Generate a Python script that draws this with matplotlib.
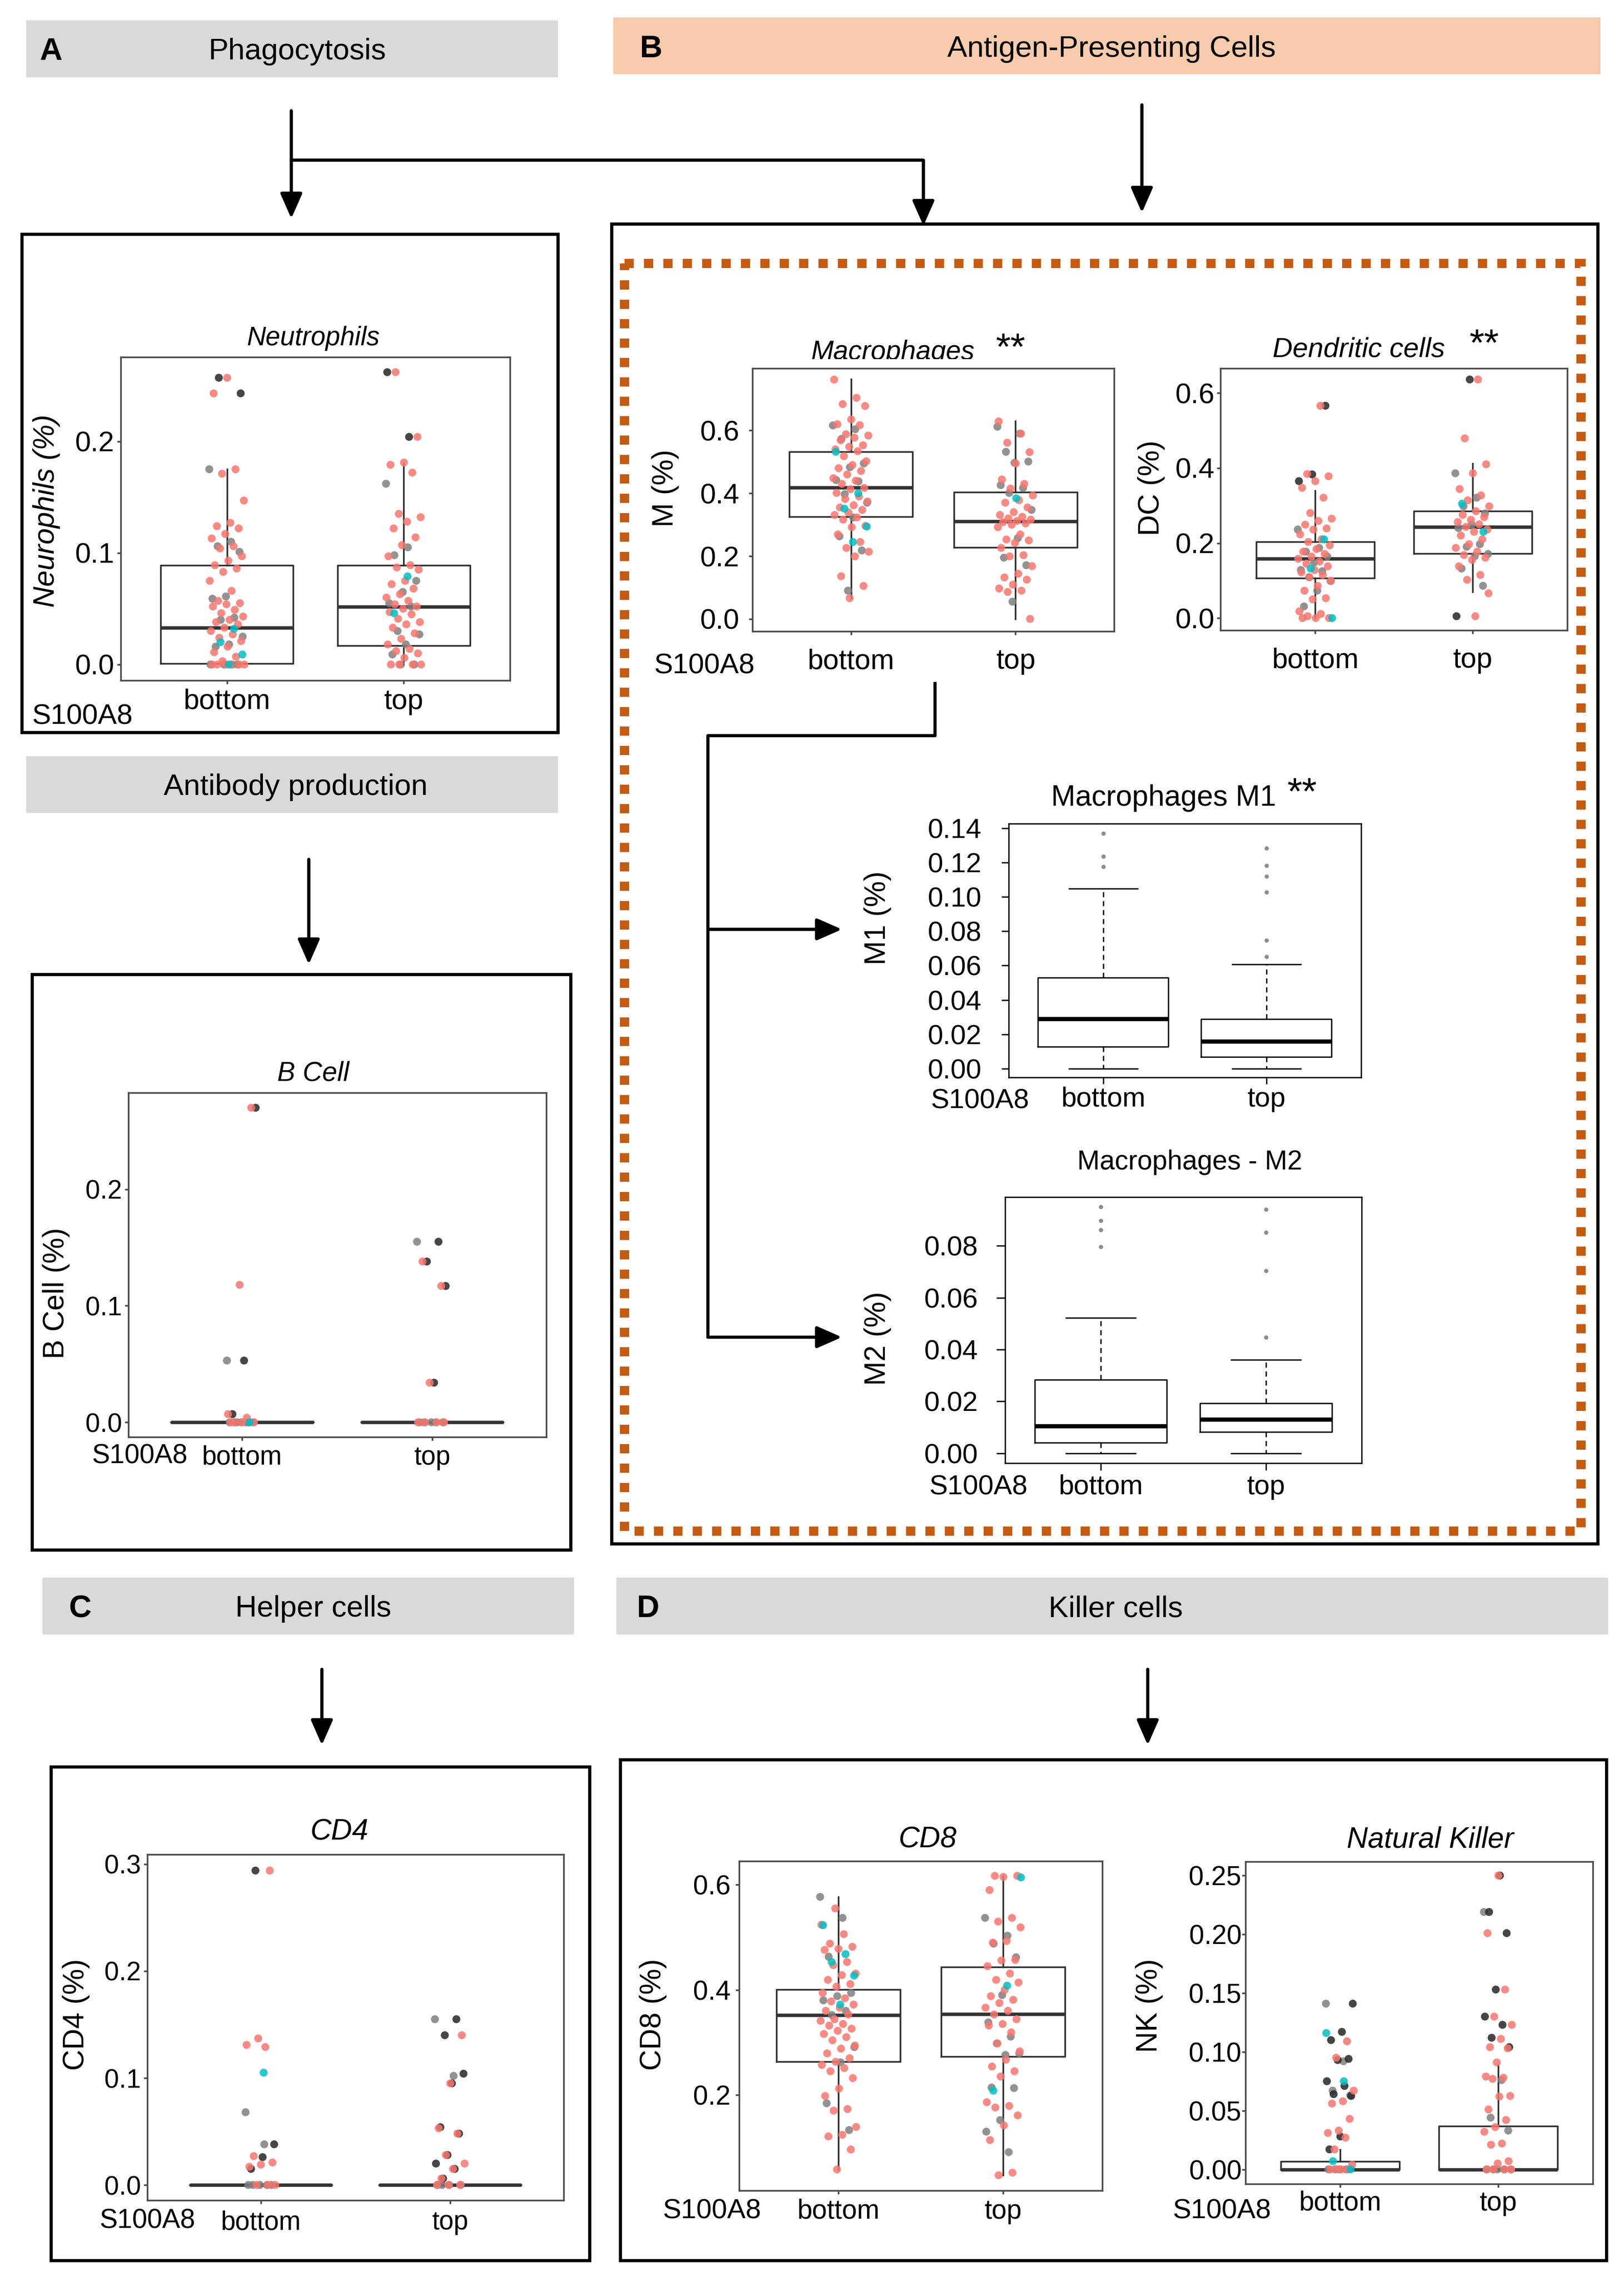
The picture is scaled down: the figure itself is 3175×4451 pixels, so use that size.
import matplotlib.pyplot as plt
from matplotlib.patches import Rectangle

plt.rcParams['font.family'] = ['Liberation Sans', 'DejaVu Sans']

# ---------------- values ----------------
groups = ['bottom', 'top']

# box stats: [whislo, q1, median, q3, whishi]
neut_bot_box = [0.0, 0.001, 0.033, 0.089, 0.175]
neut_top_box = [0.0, 0.017, 0.052, 0.089, 0.180]
bcell_bot_box = [0.0, 0.0, 0.0, 0.0, 0.0]
bcell_top_box = [0.0, 0.0, 0.0, 0.0, 0.0]
mac_bot_box = [0.066, 0.326, 0.418, 0.532, 0.763]
mac_top_box = [0.0, 0.228, 0.311, 0.404, 0.630]
dc_bot_box = [0.0, 0.106, 0.158, 0.204, 0.340]
dc_top_box = [0.070, 0.172, 0.243, 0.285, 0.412]
m1_bot_box = [0.0, 0.0129, 0.029, 0.053, 0.1048]
m1_top_box = [0.0, 0.0069, 0.0158, 0.0288, 0.0607]
m1_bot_out = [0.137, 0.1234, 0.1174]
m1_top_out = [0.1284, 0.118, 0.112, 0.1028, 0.0746, 0.0653]
m2_bot_box = [0.0, 0.0041, 0.0105, 0.0283, 0.0522]
m2_top_box = [0.0, 0.0083, 0.0129, 0.0193, 0.036]
m2_bot_out = [0.0951, 0.0897, 0.0861, 0.0797]
m2_top_out = [0.094, 0.0851, 0.0704, 0.0448]
cd4_bot_box = [0.0, 0.0, 0.0, 0.0, 0.0]
cd4_top_box = [0.0, 0.0, 0.0, 0.0, 0.0]
cd8_bot_box = [0.058, 0.263, 0.352, 0.401, 0.577]
cd8_top_box = [0.047, 0.273, 0.354, 0.4435, 0.617]
nk_bot_box = [0.0, 0.0, 0.0, 0.007, 0.017]
nk_top_box = [0.0, 0.0, 0.0, 0.037, 0.089]

# sample points, by colour group
neut_bot_red = [0.257, 0.243, 0.175, 0.171, 0.147, 0.127, 0.124, 0.122, 0.117, 0.113, 0.106, 0.104, 0.097,
                0.093, 0.089, 0.086, 0.083, 0.075, 0.066, 0.057, 0.055, 0.054, 0.052, 0.049, 0.046, 0.043,
                0.040, 0.038, 0.036, 0.033, 0.030, 0.027, 0.024, 0.021, 0.016, 0.011, 0.007, 0.003,
                0.0, 0.0, 0.0, 0.0, 0.0, 0.0]
neut_bot_gray = [0.175, 0.110, 0.106, 0.101, 0.061, 0.059, 0.042, 0.040, 0.025, 0.018, 0.016, 0.0, 0.0, 0.0, 0.0]
neut_bot_dark = [0.257, 0.243]
neut_bot_cyan = [0.032, 0.020, 0.009, 0.0]
neut_top_red = [0.262, 0.204, 0.181, 0.179, 0.172, 0.135, 0.132, 0.128, 0.122, 0.114, 0.107, 0.097, 0.089,
                0.087, 0.085, 0.075, 0.072, 0.068, 0.063, 0.060, 0.057, 0.054, 0.052, 0.050, 0.047, 0.045,
                0.041, 0.038, 0.036, 0.033, 0.028, 0.023, 0.018, 0.014, 0.012, 0.010, 0.006,
                0.0, 0.0, 0.0, 0.0]
neut_top_gray = [0.162, 0.105, 0.098, 0.075, 0.065, 0.055, 0.052, 0.030, 0.027, 0.018, 0.009, 0.0, 0.0]
neut_top_dark = [0.262, 0.204]
neut_top_cyan = [0.079, 0.046]

bcell_bot_red = [0.270, 0.118, 0.007, 0.004, 0.0, 0.0, 0.0, 0.0]
bcell_bot_gray = [0.053, 0.0, 0.0, 0.0, 0.0, 0.0, 0.0, 0.0]
bcell_bot_dark = [0.270, 0.053, 0.007]
bcell_bot_cyan = [0.0]
bcell_top_red = [0.138, 0.117, 0.034, 0.0, 0.0, 0.0, 0.0]
bcell_top_gray = [0.155, 0.0, 0.0, 0.0, 0.0, 0.0]
bcell_top_dark = [0.155, 0.138, 0.117, 0.034]

mac_bot_red = [0.762, 0.704, 0.684, 0.678, 0.635, 0.620, 0.617, 0.588, 0.584, 0.577, 0.569, 0.553, 0.548,
               0.540, 0.534, 0.518, 0.502, 0.490, 0.480, 0.471, 0.460, 0.448, 0.440, 0.430, 0.417, 0.413,
               0.401, 0.390, 0.382, 0.374, 0.362, 0.355, 0.347, 0.339, 0.331, 0.323, 0.316, 0.296, 0.292,
               0.269, 0.245, 0.226, 0.214, 0.199, 0.136, 0.105, 0.066]
mac_bot_gray = [0.616, 0.604, 0.573, 0.495, 0.483, 0.442, 0.438, 0.397, 0.370, 0.323, 0.263, 0.218, 0.090]
mac_bot_cyan = [0.532, 0.400, 0.351, 0.294, 0.245]
mac_top_red = [0.629, 0.590, 0.561, 0.531, 0.495, 0.444, 0.430, 0.415, 0.393, 0.378, 0.370, 0.355, 0.340,
               0.331, 0.325, 0.320, 0.316, 0.312, 0.308, 0.304, 0.300, 0.292, 0.269, 0.253, 0.250, 0.242,
               0.226, 0.203, 0.199, 0.168, 0.144, 0.132, 0.125, 0.109, 0.097, 0.090, 0.086, 0.0]
mac_top_gray = [0.612, 0.590, 0.532, 0.501, 0.497, 0.426, 0.417, 0.401, 0.347, 0.257, 0.195, 0.171, 0.055]
mac_top_cyan = [0.384]

dc_bot_red = [0.566, 0.384, 0.378, 0.365, 0.347, 0.321, 0.280, 0.265, 0.259, 0.249, 0.239, 0.236, 0.223,
              0.210, 0.203, 0.194, 0.184, 0.177, 0.171, 0.164, 0.158, 0.151, 0.145, 0.138, 0.128, 0.122,
              0.115, 0.109, 0.099, 0.086, 0.073, 0.053, 0.050, 0.018, 0.011, 0.005, 0.0, 0.0, 0.0]
dc_bot_gray = [0.236, 0.187, 0.177, 0.164, 0.148, 0.128, 0.125, 0.109, 0.099, 0.073, 0.031]
dc_bot_dark = [0.566, 0.383, 0.365]
dc_bot_cyan = [0.210, 0.132, 0.0]
dc_top_red = [0.636, 0.479, 0.410, 0.386, 0.344, 0.327, 0.314, 0.298, 0.285, 0.275, 0.269, 0.262, 0.256,
              0.250, 0.243, 0.236, 0.230, 0.220, 0.210, 0.197, 0.187, 0.177, 0.168, 0.161, 0.155, 0.138,
              0.115, 0.102, 0.066, 0.005]
dc_top_gray = [0.386, 0.321, 0.298, 0.279, 0.249, 0.240, 0.197, 0.190, 0.171, 0.165, 0.132, 0.086]
dc_top_dark = [0.636, 0.005]
dc_top_cyan = [0.305, 0.230]

cd4_bot_red = [0.294, 0.137, 0.131, 0.129, 0.027, 0.021, 0.019, 0.017, 0.0, 0.0, 0.0]
cd4_bot_gray = [0.068, 0.038, 0.0, 0.0, 0.0, 0.0, 0.0]
cd4_bot_dark = [0.294, 0.038, 0.026, 0.015]
cd4_bot_cyan = [0.105]
cd4_top_red = [0.140, 0.095, 0.053, 0.048, 0.028, 0.020, 0.015, 0.006, 0.0, 0.0, 0.0]
cd4_top_gray = [0.155, 0.102, 0.0, 0.0, 0.0, 0.0]
cd4_top_dark = [0.155, 0.140, 0.104, 0.095, 0.054, 0.048, 0.028, 0.020, 0.015, 0.006]

cd8_bot_red = [0.555, 0.524, 0.506, 0.488, 0.482, 0.478, 0.476, 0.453, 0.447, 0.431, 0.428, 0.419, 0.411,
               0.406, 0.394, 0.384, 0.378, 0.372, 0.366, 0.360, 0.353, 0.344, 0.341, 0.335, 0.332, 0.326,
               0.322, 0.316, 0.310, 0.304, 0.294, 0.288, 0.279, 0.270, 0.263, 0.257, 0.251, 0.245, 0.232,
               0.212, 0.198, 0.173, 0.170, 0.139, 0.124, 0.121, 0.096, 0.058]
cd8_bot_gray = [0.577, 0.537, 0.463, 0.394, 0.388, 0.380, 0.360, 0.352, 0.291, 0.262, 0.184, 0.133]
cd8_bot_cyan = [0.523, 0.468, 0.453, 0.427, 0.372]
cd8_top_red = [0.617, 0.617, 0.615, 0.590, 0.537, 0.530, 0.519, 0.493, 0.490, 0.457, 0.456, 0.445, 0.431,
               0.419, 0.414, 0.400, 0.388, 0.381, 0.375, 0.366, 0.360, 0.353, 0.344, 0.335, 0.332, 0.319,
               0.298, 0.283, 0.267, 0.254, 0.245, 0.235, 0.186, 0.179, 0.176, 0.161, 0.142, 0.114, 0.052,
               0.047]
cd8_top_gray = [0.537, 0.503, 0.488, 0.462, 0.390, 0.338, 0.311, 0.298, 0.279, 0.276, 0.214, 0.213, 0.152,
                0.130, 0.091]
cd8_top_cyan = [0.614, 0.408, 0.208]

nk_bot_red = [0.109, 0.095, 0.067, 0.058, 0.056, 0.043, 0.033, 0.031, 0.027, 0.017, 0.004, 0.0, 0.0, 0.0, 0.0]
nk_bot_gray = [0.141, 0.092, 0.067, 0.063, 0.0, 0.0, 0.0, 0.0]
nk_bot_dark = [0.141, 0.117, 0.110, 0.094, 0.093, 0.075, 0.071, 0.064, 0.0625, 0.028, 0.017]
nk_bot_cyan = [0.116, 0.075, 0.007, 0.0]
nk_top_red = [0.250, 0.201, 0.153, 0.130, 0.123, 0.111, 0.104, 0.103, 0.091, 0.079, 0.078, 0.077, 0.0625,
              0.062, 0.051, 0.042, 0.036, 0.032, 0.022, 0.021, 0.007, 0.005, 0.0, 0.0, 0.0, 0.0]
nk_top_gray = [0.219, 0.076, 0.044, 0.033, 0.0, 0.0, 0.0, 0.0, 0.0]
nk_top_dark = [0.250, 0.219, 0.201, 0.153, 0.130, 0.123, 0.112, 0.104]

# ---------------- styling ----------------
RED, CYAN, GRAY, DARK = '#F8766D', '#00BFC4', '#7F7F7F', '#262626'
HEAD_GRAY, HEAD_PEACH, ORANGE = '#D9D9D9', '#F8CBAD', '#C55A11'

W, H = 1115.0, 1563.2   # layout grid (preview pixels)

fig = plt.figure(figsize=(31.75, 44.51), dpi=100)
base = fig.add_axes([0, 0, 1, 1])
base.set_xlim(0, W)
base.set_ylim(H, 0)
base.axis('off')


def rect_of(x0, y0, x1, y1):
    return [x0 / W, 1 - y1 / H, (x1 - x0) / W, (y1 - y0) / H]


def header(x0, y0, x1, y1, color, letter, lx, text, tx):
    base.add_patch(Rectangle((x0, y0), x1 - x0, y1 - y0, facecolor=color, edgecolor='none'))
    yc = (y0 + y1) / 2
    if letter:
        base.text(lx, yc, letter, fontsize=44, fontweight='bold', ha='center', va='center_baseline')
    base.text(tx, yc, text, fontsize=42, ha='center', va='center_baseline')


def frame(x0, y0, x1, y1):
    base.add_patch(Rectangle((x0, y0), x1 - x0, y1 - y0, fill=False, edgecolor='black', lw=4.5))


def line(xs, ys):
    base.plot(xs, ys, color='black', lw=4.5, solid_capstyle='butt')


def arrow(x0, y0, x1, y1):
    base.annotate('', xy=(x1, y1), xytext=(x0, y0),
                  arrowprops=dict(arrowstyle='-|>,head_length=0.5,head_width=0.22', lw=4.5,
                                  color='black', shrinkA=0, shrinkB=0, mutation_scale=60))


def txt(x, y, s, size, **kw):
    base.text(x, y, s, fontsize=size, va='baseline', **kw)


def jitter_x(pos, n, start, width):
    return [pos + (((start + i) * 0.6180339887) % 1.0 - 0.5) * 2 * width for i in range(n)]


def setup_axis(ax, box, ylim, yticks, ylabels, ylabel, lab_xy, italic_lab, tsize, ytick, xtick, border):
    ax.set_ylim(ylim)
    ax.set_yticks(yticks)
    ax.set_yticklabels(ylabels)
    ax.set_xticks([1, 2])
    ax.set_xticklabels(groups)
    for s in ax.spines.values():
        s.set_color(border[0])
        s.set_linewidth(border[1])
    ax.tick_params(axis='both', labelsize=tsize, colors='black', width=border[1])
    ax.tick_params(axis='y', length=ytick[0], pad=ytick[1], color=border[0])
    ax.tick_params(axis='x', length=xtick[0], pad=xtick[1], color=border[0])
    x0, y0, x1, y1 = box
    ax.set_ylabel(ylabel, fontsize=41, va='center', style='italic' if italic_lab else 'normal')
    ax.yaxis.set_label_coords((lab_xy[0] - x0) / (x1 - x0), (y1 - lab_xy[1]) / (y1 - y0))


def gg_panel(box, ylim, yticks, ylabels, ylabel, lab_xy, italic_lab, stats, pts, jit, tsize, ytick, xtick):
    ax = fig.add_axes(rect_of(*box))
    ax.set_xlim(0.4, 2.6)
    bx = [dict(whislo=b[0], q1=b[1], med=b[2], q3=b[3], whishi=b[4]) for b in stats]
    ax.bxp(bx, positions=[1, 2], widths=0.75, showfliers=False, showcaps=False,
           boxprops=dict(color='#333333', lw=2.4), whiskerprops=dict(color='#333333', lw=2.4),
           medianprops=dict(color='#333333', lw=4.8, solid_capstyle='butt'), zorder=2)
    for pos, grp in zip([1, 2], pts):
        k = 0
        for vals, col in grp:
            ax.scatter(jitter_x(pos, len(vals), k, jit), vals, s=125, color=col, alpha=0.85,
                       edgecolors='none', zorder=3)
            k += len(vals)
    setup_axis(ax, box, ylim, yticks, ylabels, ylabel, lab_xy, italic_lab, tsize, ytick, xtick, ('#4d4d4d', 2.4))
    return ax


def r_panel(box, ylim, yticks, ylabels, ylabel, lab_xy, stats, outs, tsize, ytick, xtick):
    ax = fig.add_axes(rect_of(*box))
    ax.set_xlim(0.42, 2.58)
    bx = [dict(whislo=b[0], q1=b[1], med=b[2], q3=b[3], whishi=b[4], fliers=o) for b, o in zip(stats, outs)]
    ax.bxp(bx, positions=[1, 2], widths=0.8, capwidths=0.42, showfliers=True,
           boxprops=dict(color='black', lw=1.8), whiskerprops=dict(color='black', lw=1.8, linestyle=(0, (4, 3))),
           capprops=dict(color='black', lw=1.8), medianprops=dict(color='black', lw=6, solid_capstyle='butt'),
           flierprops=dict(marker='o', markersize=6, markerfacecolor='#8c8c8c', markeredgecolor='none'))
    setup_axis(ax, box, ylim, yticks, ylabels, ylabel, lab_xy, False, tsize, ytick, xtick, ('black', 1.8))
    return ax


# ---------------- headers, frames, arrows ----------------
header(18, 14, 383, 53, HEAD_GRAY, 'A', 35, 'Phagocytosis', 204)
header(421, 12, 1099, 51, HEAD_PEACH, 'B', 447, 'Antigen-Presenting Cells', 763)
header(18, 519, 383, 558, HEAD_GRAY, None, 0, 'Antibody production', 203)
header(29, 1083, 394, 1122, HEAD_GRAY, 'C', 55, 'Helper cells', 215)
header(423, 1083, 1104, 1122, HEAD_GRAY, 'D', 445, 'Killer cells', 766)

frame(15, 161, 383, 503)
frame(22, 669, 392, 1064)
frame(420, 154, 1097, 1060)
frame(35, 1213, 405, 1552)
frame(426, 1208, 1103, 1552)
base.add_patch(Rectangle((428.7, 181), 1085.5 - 428.7, 1051 - 181, fill=False, edgecolor=ORANGE,
                         lw=13, linestyle=(0, (1.0, 1.1))))

arrow(200, 76, 200, 150)
line([200, 634], [110, 110])
arrow(634, 110, 634, 155)
arrow(784, 72, 784, 146)
arrow(212, 590, 212, 662)
arrow(221, 1146, 221, 1198)
arrow(788, 1146, 788, 1198)
line([642, 642, 486, 486], [468, 505, 505, 918])
arrow(486, 638, 578, 638)
arrow(486, 918, 578, 918)

# ---------------- panel titles and group labels ----------------
txt(215, 237, 'Neutrophils', 37, ha='center', style='italic')
txt(215, 742, 'B Cell', 38, ha='center', style='italic')
txt(613, 247, 'Macrophages', 38, ha='center', style='italic')
base.add_patch(Rectangle((540, 246.5), 150, 7, facecolor='white', edgecolor='none', zorder=5))
txt(694, 247, '**', 54, ha='center')
txt(933, 245, 'Dendritic cells', 39, ha='center', style='italic')
txt(1019, 244, '**', 54, ha='center')
txt(799, 553, 'Macrophages M1', 41, ha='center')
txt(894, 552, '**', 54, ha='center')
txt(817, 803, 'Macrophages - M2', 38, ha='center')
txt(233, 1263, 'CD4', 41, ha='center', style='italic')
txt(637, 1268.5, 'CD8', 41, ha='center', style='italic')
txt(982, 1268.5, 'Natural Killer', 41, ha='center', style='italic')

txt(22, 497, 'S100A8', 40)
txt(449, 462.5, 'S100A8', 40)
txt(639, 761, 'S100A8', 39)
txt(638, 1026, 'S100A8', 39)
txt(63, 1004.5, 'S100A8', 38)
txt(68.5, 1529.5, 'S100A8', 38)
txt(455, 1523, 'S100A8', 39)
txt(805, 1523, 'S100A8', 39)

# ---------------- data panels ----------------
gg_panel((83, 245, 350, 467), (-0.0141, 0.2757), [0.0, 0.1, 0.2], ['0.0', '0.1', '0.2'],
         'Neurophils (%)', (32, 350.6), True, [neut_bot_box, neut_top_box],
         [[(neut_bot_gray, GRAY), (neut_bot_dark, DARK), (neut_bot_red, RED), (neut_bot_cyan, CYAN)],
          [(neut_top_gray, GRAY), (neut_top_dark, DARK), (neut_top_red, RED), (neut_top_cyan, CYAN)]],
         0.1, 40, (5, 3.7), (5, 6.7))

gg_panel((88, 750, 375, 986.5), (-0.0126, 0.2831), [0.0, 0.1, 0.2], ['0.0', '0.1', '0.2'],
         'B Cell (%)', (38.6, 887.8), False, [bcell_bot_box, bcell_top_box],
         [[(bcell_bot_gray, GRAY), (bcell_bot_dark, DARK), (bcell_bot_red, RED), (bcell_bot_cyan, CYAN)],
          [(bcell_top_gray, GRAY), (bcell_top_dark, DARK), (bcell_top_red, RED)]],
         0.08, 37, (5, 3.8), (5, 6.3))

gg_panel((516.5, 252.7, 765, 433.3), (-0.039, 0.7986), [0.0, 0.2, 0.4, 0.6], ['0.0', '0.2', '0.4', '0.6'],
         'M (%)', (457, 335), False, [mac_bot_box, mac_top_box],
         [[(mac_bot_gray, GRAY), (mac_bot_red, RED), (mac_bot_cyan, CYAN)],
          [(mac_top_gray, GRAY), (mac_top_red, RED), (mac_top_cyan, CYAN)]],
         0.11, 40, (5, 13), (5, 19))

gg_panel((838, 252.7, 1076, 432.7), (-0.0326, 0.6664), [0.0, 0.2, 0.4, 0.6], ['0.0', '0.2', '0.4', '0.6'],
         'DC (%)', (790.4, 335), False, [dc_bot_box, dc_top_box],
         [[(dc_bot_gray, GRAY), (dc_bot_dark, DARK), (dc_bot_red, RED), (dc_bot_cyan, CYAN)],
          [(dc_top_gray, GRAY), (dc_top_dark, DARK), (dc_top_red, RED), (dc_top_cyan, CYAN)]],
         0.11, 40, (5, 3.3), (5, 19))

r_panel((692.5, 565.3, 934.4, 739.6), (-0.00505, 0.14266),
        [0.0, 0.02, 0.04, 0.06, 0.08, 0.10, 0.12, 0.14],
        ['0.00', '0.02', '0.04', '0.06', '0.08', '0.10', '0.12', '0.14'],
        'M1 (%)', (602.5, 630), [m1_bot_box, m1_top_box], [m1_bot_out, m1_top_out],
        39, (10, 28), (9.6, 3.4))

r_panel((690, 821.8, 935, 1004.4), (-0.00377, 0.0988),
        [0.0, 0.02, 0.04, 0.06, 0.08], ['0.00', '0.02', '0.04', '0.06', '0.08'],
        'M2 (%)', (602.5, 918.7), [m2_bot_box, m2_top_box], [m2_bot_out, m2_top_out],
        39, (12.6, 25), (10, 5.6))

gg_panel((101, 1273, 387, 1510.5), (-0.0143, 0.3092), [0.0, 0.1, 0.2, 0.3], ['0.0', '0.1', '0.2', '0.3'],
         'CD4 (%)', (52.4, 1383), False, [cd4_bot_box, cd4_top_box],
         [[(cd4_bot_gray, GRAY), (cd4_bot_dark, DARK), (cd4_bot_red, RED), (cd4_bot_cyan, CYAN)],
          [(cd4_top_gray, GRAY), (cd4_top_dark, DARK), (cd4_top_red, RED)]],
         0.08, 37, (5, 3.6), (5, 9))

gg_panel((507.6, 1277.6, 756.7, 1503.8), (0.018, 0.6453), [0.2, 0.4, 0.6], ['0.2', '0.4', '0.6'],
         'CD8 (%)', (448.3, 1383), False, [cd8_bot_box, cd8_top_box],
         [[(cd8_bot_gray, GRAY), (cd8_bot_red, RED), (cd8_bot_cyan, CYAN)],
          [(cd8_top_gray, GRAY), (cd8_top_red, RED), (cd8_top_cyan, CYAN)]],
         0.11, 38, (5, 7.3), (5, 6.5))

gg_panel((855, 1278, 1093.7, 1499.4), (-0.0125, 0.2619), [0.0, 0.05, 0.10, 0.15, 0.20, 0.25],
         ['0.00', '0.05', '0.10', '0.15', '0.20', '0.25'],
         'NK (%)', (789, 1376.7), False, [nk_bot_box, nk_top_box],
         [[(nk_bot_gray, GRAY), (nk_bot_dark, DARK), (nk_bot_red, RED), (nk_bot_cyan, CYAN)],
          [(nk_top_gray, GRAY), (nk_top_dark, DARK), (nk_top_red, RED)]],
         0.09, 38, (5, 0.5), (5, 4))

fig.savefig('out.png', dpi=100)
